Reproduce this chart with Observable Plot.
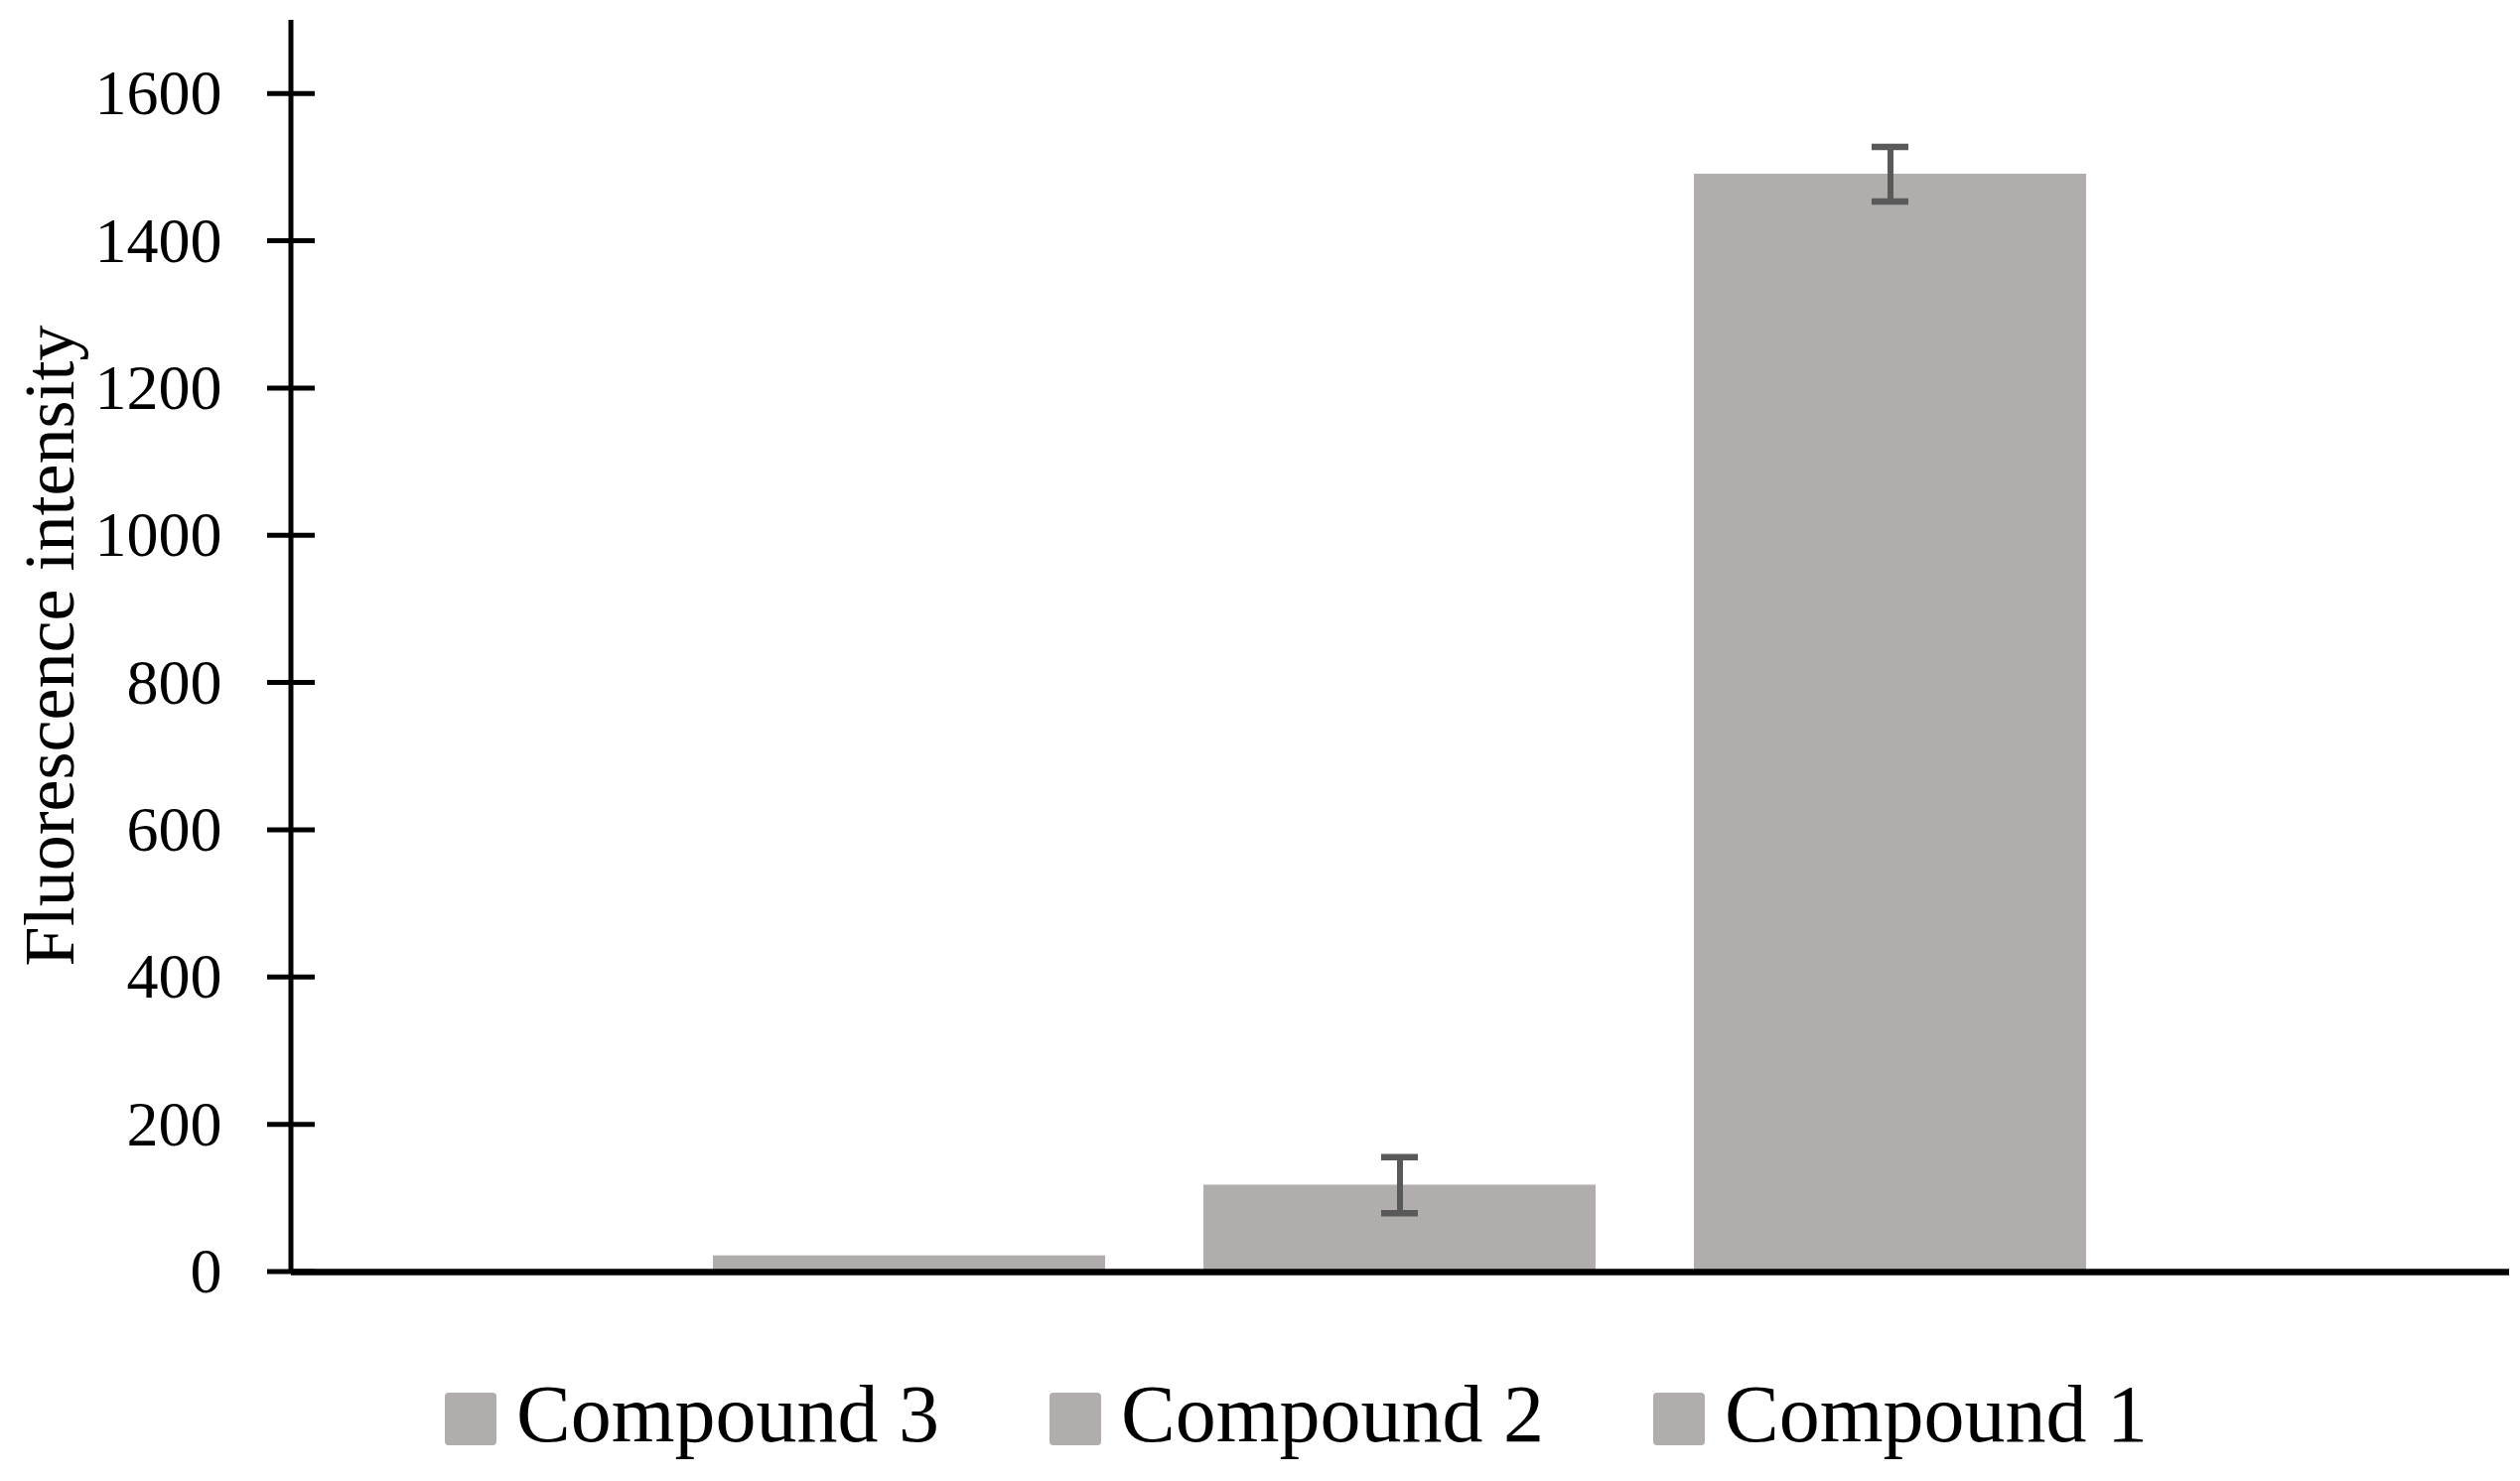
<!DOCTYPE html>
<html><head><meta charset="utf-8">
<script src="https://cdn.jsdelivr.net/npm/d3@7"></script>
<script src="https://cdn.jsdelivr.net/npm/@observablehq/plot@0.6"></script>
<style>
body{margin:0;background:#fff;width:2538px;height:1492px;overflow:hidden;font-family:"Liberation Serif",serif;color:#000}
#legend{position:relative;height:142px}
.item{position:absolute;top:34px;display:flex;align-items:flex-start;font-size:82px;line-height:82px;white-space:nowrap}
.sw{width:52px;height:53px;background:#b0adac;border-radius:4px;margin-top:19px;margin-right:20px}
</style></head><body><div id="chart"></div><div id="legend"></div>
<script>
// ---- data ----
const compounds = ["Compound 3", "Compound 2", "Compound 1"];
const intensity = [22, 118, 1491];
const errors = [0, 38, 37];
const yTicks = [0, 200, 400, 600, 800, 1000, 1200, 1400, 1600];
const yMax = 1700;
const yTitle = "Fluorescence intensity";
const legendLabels = ["Compound 3", "Compound 2", "Compound 1"];

const barColor = "#b0adac";
const errColor = "#595959";

const rows = compounds.map((name, i) => ({name, value: intensity[i], err: errors[i], lo: intensity[i] - errors[i], hi: intensity[i] + errors[i]}));
const errRows = rows.filter(d => d.err > 0);

function yAxisDecor(index, scales, values, dimensions) {
  const g = d3.create("svg:g");
  const x0 = dimensions.marginLeft;
  const y = scales.y;
  g.append("line").attr("x1", x0).attr("x2", x0).attr("y1", y(yMax)).attr("y2", y(0))
    .attr("stroke", "black").attr("stroke-width", 5);
  for (const t of yTicks) {
    g.append("line").attr("x1", x0 - 24).attr("x2", x0 + 24).attr("y1", y(t)).attr("y2", y(t))
      .attr("stroke", "black").attr("stroke-width", 5);
  }
  g.append("text")
    .attr("transform", `translate(${x0 - 219},${(y(0) + y(yMax)) / 2}) rotate(-90)`)
    .attr("text-anchor", "middle")
    .attr("font-size", 72)
    .attr("fill", "black")
    .text(yTitle);
  return g.node();
}

const plot = Plot.plot({
  width: 2538,
  height: 1350,
  marginLeft: 293,
  marginRight: 11,
  marginTop: 20,
  marginBottom: 69,
  style: {fontFamily: "Liberation Serif, serif", fontSize: "64px", color: "black", background: "white"},
  x: {domain: compounds, axis: null, paddingInner: 0.2, paddingOuter: 0.857},
  y: {domain: [0, yMax]},
  marks: [
    Plot.barY(rows, {x: "name", y: "value", fill: barColor}),
    Plot.ruleX(errRows, {x: "name", y1: "lo", y2: "hi", stroke: errColor, strokeWidth: 6}),
    Plot.tickY(errRows, {x: "name", y: "hi", stroke: errColor, strokeWidth: 6.5, insetLeft: 179, insetRight: 179}),
    Plot.tickY(errRows, {x: "name", y: "lo", stroke: errColor, strokeWidth: 6.5, insetLeft: 179, insetRight: 179}),
    Plot.ruleY([0], {stroke: "black", strokeWidth: 6.5}),
    Plot.axisY({ticks: yTicks, tickSize: 0, tickPadding: 70, tickFormat: "d", fontSize: 64, label: null}),
    yAxisDecor
  ]
});
document.getElementById("chart").appendChild(plot);

const legendLefts = [448, 1057, 1665];
const legend = document.getElementById("legend");
legendLabels.forEach((lab, i) => {
  const item = document.createElement("div");
  item.className = "item";
  item.style.left = legendLefts[i] + "px";
  const sw = document.createElement("div");
  sw.className = "sw";
  const tx = document.createElement("span");
  tx.textContent = lab;
  item.appendChild(sw); item.appendChild(tx);
  legend.appendChild(item);
});
</script>
</body></html>
